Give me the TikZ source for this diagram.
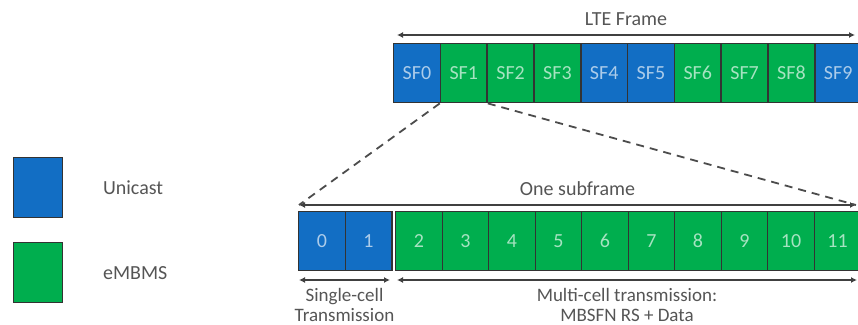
\documentclass[tikz,border=0pt]{standalone}
\usepackage{fontspec}
\setmainfont{Carlito}
\usetikzlibrary{arrows.meta, calc}
\definecolor{unicast}{RGB}{18,110,196}
\definecolor{embms}{RGB}{0,174,78}
\definecolor{labelgray}{RGB}{85,85,85}
\begin{document}
\begin{tikzpicture}[x=0.5pt, y=-0.5pt, every node/.style={font=\fontsize{10}{10.5}\selectfont},
	cell/.style={draw=black!80, line width=0.7pt, fill=#1, text=#1!35!white, minimum width=23.3pt, minimum height=29.5pt, inner sep=0pt, anchor=north west},
	keybox/.style={draw=black!80, line width=0.7pt, fill=#1, minimum width=24.5pt, minimum height=30pt, inner sep=0pt, anchor=north west},
	span/.style={{Latex[length=3pt,width=3pt]}-{Latex[length=3pt,width=3pt]}, line width=0.9pt, black!75},
	zoomline/.style={line width=0.9pt, black!70, dash pattern=on 4pt off 3pt},
	lbl/.style={text=labelgray, align=center}]
\useasboundingbox (0,0) rectangle (858,325);
\clip (0,0) rectangle (858,325);
% legenda
\node[keybox=unicast] (keyuni) at (13,157) {};
\node[keybox=embms] (keymb) at (13,242) {};
\node[lbl, anchor=west] (txtuni) at (96,188) {Unicast};
\node[lbl, anchor=west] (txtmb) at (96,273) {eMBMS};
% ramka LTE
\foreach \i/\c in {0/unicast, 1/embms, 2/embms, 3/embms, 4/unicast, 5/unicast, 6/embms, 7/embms, 8/embms, 9/unicast}
	\node[cell=\c] (sf\i) at ({393+\i*46.8},43) {SF\i};
\coordinate (lteL) at (397,35);
\coordinate (lteR) at (855,35);
\draw[span] (lteL) -- node[lbl, above=1pt] (ltetxt) {LTE Frame} (lteR);
% jedna podramka
\foreach \i in {0, 1}
	\node[cell=unicast] (c\i) at ({298+\i*46.5},211) {\i};
\foreach \i in {2,...,11}
	\node[cell=embms] (c\i) at ({395+(\i-2)*46.5},211) {\i};
\coordinate (subL) at (299,205);
\coordinate (subR) at (856,205);
\draw[span] (subL) -- node[lbl, above=1pt] (subtxt) {One subframe} (subR);
\draw[zoomline] (sf1.south west) -- (subL);
\draw[zoomline] (sf1.south east) -- (subR);
% dolne strzalki
\coordinate (singL) at (299,280);
\coordinate (singR) at (390,280);
\coordinate (multL) at (397,280);
\coordinate (multR) at (857,280);
\draw[span] (singL) -- (singR);
\draw[span] (multL) -- (multR);
\node[lbl, anchor=north, inner sep=0pt, font=\fontsize{9.5}{10}\selectfont] (singtxt) at ($(singL)!0.5!(singR)+(0,8)$) {Single-cell\\Transmission};
\node[lbl, anchor=north, inner sep=0pt, font=\fontsize{9.5}{10}\selectfont] (multtxt) at ($(multL)!0.5!(multR)+(0,8)$) {Multi-cell transmission:\\MBSFN RS + Data};
\end{tikzpicture}
\end{document}
